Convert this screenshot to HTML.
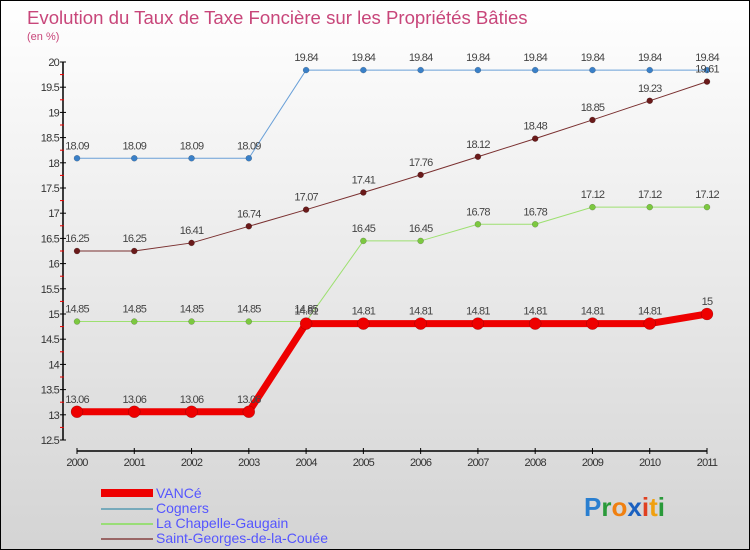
<!DOCTYPE html>
<html><head><meta charset="utf-8"><style>
body{margin:0}
#c{width:750px;height:550px;position:relative;overflow:hidden;box-sizing:border-box;border:1px solid #000;background:linear-gradient(#ffffff,#d4d4d4);font-family:"Liberation Sans",sans-serif}
svg text{font-family:"Liberation Sans",sans-serif}
</style></head><body>
<div id="c">
<svg id="s" width="750" height="550">
<text x="26" y="23" font-size="18.6" fill="#c8467a">Evolution du Taux de Taxe Foncière sur les Propriétés Bâties</text>
<text x="26" y="39" font-size="11" fill="#c8467a">(en %)</text>
<g id="axes"></g><g id="series"></g>
<g>
<rect x="100" y="488" width="52" height="8" fill="#e00"/>
<text x="155" y="497" font-size="14" fill="#55f">VANCé</text>
<rect x="100" y="507" width="52" height="2" fill="#7ab"/>
<text x="155" y="512" font-size="14" fill="#55f">Cogners</text>
<rect x="100" y="522" width="52" height="2" fill="#9d7"/>
<text x="155" y="527" font-size="14" fill="#55f">La Chapelle-Gaugain</text>
<rect x="100" y="537" width="52" height="2" fill="#966"/>
<text x="155" y="542" font-size="14" fill="#55f">Saint-Georges-de-la-Couée</text>
</g>
<text x="583" y="515" font-size="26" font-weight="bold"><tspan fill="#2a7fd0">P</tspan><tspan fill="#2a9a3a">r</tspan><tspan fill="#f08010">o</tspan><tspan fill="#1a60c0">x</tspan><tspan fill="#e04020">i</tspan><tspan fill="#f0a010">t</tspan><tspan fill="#2a9a3a">i</tspan></text>
</svg>
</div>
<script>
const years=["2000","2001","2002","2003","2004","2005","2006","2007","2008","2009","2010","2011"];
const vance=[13.06,13.06,13.06,13.06,14.81,14.81,14.81,14.81,14.81,14.81,14.81,15];
const cogners=[18.09,18.09,18.09,18.09,19.84,19.84,19.84,19.84,19.84,19.84,19.84,19.84];
const chapelle=[14.85,14.85,14.85,14.85,14.85,16.45,16.45,16.78,16.78,17.12,17.12,17.12];
const stgeorges=[16.25,16.25,16.41,16.74,17.07,17.41,17.76,18.12,18.48,18.85,19.23,19.61];
const yTicks=[12.5,13,13.5,14,14.5,15,15.5,16,16.5,17,17.5,18,18.5,19,19.5,20];
const NS="http://www.w3.org/2000/svg";
const X=i=>76+i*(630/11);
const Y=v=>61+(20-v)*50.4;
function mk(t,a,p){const e=document.createElementNS(NS,t);for(const k in a)e.setAttribute(k,a[k]);p.appendChild(e);return e;}
const ax=document.getElementById('axes');
let e=mk('line',{x1:62,y1:Y(20),x2:62,y2:Y(12.5),stroke:'#000','stroke-width':1.5},ax);


e=mk('line',{x1:X(0),y1:450,x2:X(11),y2:450,stroke:'#000','stroke-width':1.5},ax);


yTicks.forEach(v=>{
 mk('line',{x1:59,y1:Y(v),x2:65,y2:Y(v),stroke:'#000'},ax);
 if(v<20) mk('line',{x1:59,y1:Y(v+0.25),x2:63,y2:Y(v+0.25),stroke:'#e00'},ax);
 const t=mk('text',{x:58,y:Y(v)+4,'font-size':11,fill:'#333','text-anchor':'end','letter-spacing':'-0.8'},ax);
 t.textContent=String(v);
 
 
});
years.forEach((y,i)=>{
 mk('line',{x1:X(i),y1:447,x2:X(i),y2:453,stroke:'#000'},ax);
 const t=mk('text',{x:X(i),y:465,'font-size':11,fill:'#333','text-anchor':'middle','letter-spacing':'-0.8'},ax);
 t.textContent=y;
 
 
});
const sg=document.getElementById('series');
function series(data,name,color,w,r,dot){
 const g=mk('g',{},sg);
 
 
 const pl=mk('polyline',{points:data.map((v,i)=>X(i)+','+Y(v)).join(' '),fill:'none',stroke:color,'stroke-width':w,'stroke-linejoin':'round'},g);
 
 
 data.forEach((v,i)=>{
  const c=mk('circle',{cx:X(i),cy:Y(v),r:r,fill:dot,stroke:'rgba(0,0,0,0.3)','stroke-width':0.5},g);
  
  
  const t=mk('text',{x:X(i),y:Y(v)-9,'font-size':11,fill:'#444','text-anchor':'middle','letter-spacing':'-0.8'},g);
  t.textContent=String(v);
  
  
 });
}
series(cogners,'cogners','#6aa0d8',1,3,'#3a80c8');
series(chapelle,'la-chapelle-gaugain','#9de070',1,3,'#7cc840');
series(stgeorges,'saint-georges','#7a3030',1,3,'#6a1a1a');
series(vance,'vance','#ee0000',7,6,'#ee0000');
</script>
</body></html>
